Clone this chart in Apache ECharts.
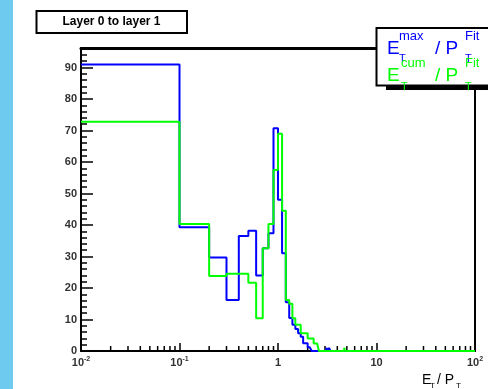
<!DOCTYPE html>
<html>
<head>
<meta charset="utf-8">
<script src="https://cdn.jsdelivr.net/npm/echarts@6/dist/echarts.min.js"></script>
<style>
html,body{margin:0;padding:0;background:#fff;}
#chart{width:488px;height:389px;}
</style>
</head>
<body>
<div id="chart"></div>
<script>
// Histogram bin edges (E_T / P_T), log x axis starts at 1e-2
const binEdges = [0.01,0.1,0.2,0.3,0.4,0.5,0.6,0.7,0.8,0.9,1.0,1.1,1.2,1.3,1.4,1.5,1.6,1.7,1.8,1.9,2.0,2.1,2.2,2.3,2.4,2.5,2.6,3.1,3.2,3.3,3.4,4.7,4.8,8.5,8.6,12.5,12.7,100];
// E_T^max / P_T^Fit (blue)
const maxCounts = [91,39.3,29.7,16.2,36.5,38.2,24,32.6,37.4,70.7,48,31,15.5,10.5,8.3,7,5.6,4.5,2.5,2.5,1.2,1.2,0,0,0,0,0,1,0,1,0,0,0,0.6,0,0.6,0];
// E_T^cum / P_T^Fit (green)
const cumCounts = [72.8,40.3,23.8,24.5,24.5,21.7,10.4,32.6,40.3,57.5,69,44.5,16.2,15,10.4,8.3,8.3,5.6,5.6,5.6,4,4,4,2.4,2.4,2.4,0,0,0,0,0,1,0,0,0,0,0];
// minor tick positions of the log x axis
const xMinorTicks = [0.02,0.03,0.04,0.05,0.06,0.07,0.08,0.09,0.2,0.3,0.4,0.5,0.6,0.7,0.8,0.9,2,3,4,5,6,7,8,9,20,30,40,50,60,70,80,90];
const yMax = 96.2;
const titleText = 'Layer 0 to layer 1';

function stepPoints(edges, vals) {
  const pts = [];
  for (let i = 0; i < vals.length; i++) {
    pts.push([edges[i], vals[i]]);
    pts.push([edges[i + 1], vals[i]]);
  }
  return pts;
}

const FONT = 'Liberation Sans';
const chart = echarts.init(document.getElementById('chart'), null, {renderer: 'canvas'});

function txt(x, y, s, size, color, weight) {
  return {type: 'text', x: x, y: y, z: 100,
    style: {text: s, font: (weight || 'normal') + ' ' + size + 'px "' + FONT + '"', fill: color, align: 'left', verticalAlign: 'middle'}};
}

const legendGroup = [
  {type: 'rect', shape: {x: 386, y: 85, width: 110, height: 5}, style: {fill: '#000'}, z: 90},
  {type: 'rect', shape: {x: 376.5, y: 28, width: 130, height: 57.5}, style: {fill: '#fff', stroke: '#000', lineWidth: 2}, z: 91},
  txt(387, 49, 'E', 19, '#0000ff'),
  txt(399, 36, 'max', 13, '#0000ff'),
  txt(399, 59, 'T', 11, '#0000ff'),
  txt(435, 49, '/ P', 19, '#0000ff'),
  txt(465, 36, 'Fit', 13, '#0000ff'),
  txt(465, 59, 'T', 11, '#0000ff'),
  txt(387, 76, 'E', 19, '#00ff00'),
  txt(401, 63, 'cum', 13, '#00ff00'),
  txt(401, 87, 'T', 11, '#00ff00'),
  txt(435, 76, '/ P', 19, '#00ff00'),
  txt(465, 63, 'Fit', 13, '#00ff00'),
  txt(465, 87, 'T', 11, '#00ff00')
];

const option = {
  animation: false,
  backgroundColor: '#fff',
  grid: {left: 81, right: 13, top: 48, bottom: 38, containLabel: false},
  xAxis: [
    {
      type: 'log', logBase: 10, min: 0.01, max: 100,
      axisLine: {show: true, onZero: false, lineStyle: {color: '#000', width: 2}},
      axisTick: {show: true, inside: true, length: 8, lineStyle: {color: '#000', width: 1.5}},
      splitLine: {show: false},
      axisLabel: {
        margin: 5,
        formatter: function (v) {
          const e = Math.round(Math.log10(v));
          if (e === 0) return '{b|1}';
          if (e === 1) return '{b|10}';
          return '{b|10}{s|' + e + '}';
        },
        rich: {
          b: {fontFamily: FONT, fontWeight: 'bold', fontSize: 11, color: '#333', lineHeight: 14},
          s: {fontFamily: FONT, fontWeight: 'bold', fontSize: 7, color: '#333', lineHeight: 14, verticalAlign: 'top'}
        }
      }
    },
    {
      type: 'value', position: 'top', min: 0, max: 1,
      axisLine: {show: true, onZero: false, lineStyle: {color: '#000', width: 3}},
      axisTick: {show: false}, axisLabel: {show: false}, splitLine: {show: false}
    }
  ],
  yAxis: [
    {
      type: 'value', min: 0, max: yMax, interval: 10,
      axisLine: {show: true, onZero: false, lineStyle: {color: '#000', width: 2}},
      axisTick: {show: true, inside: true, length: 12, lineStyle: {color: '#000', width: 1.5}},
      minorTick: {show: true, splitNumber: 5, length: 6, lineStyle: {color: '#000', width: 1.5}},
      splitLine: {show: false},
      axisLabel: {
        margin: 4, fontFamily: FONT, fontWeight: 'bold', fontSize: 11, color: '#333',
        showMaxLabel: false,
        formatter: function (v) { return (Math.abs(v % 10) < 1e-6) ? String(v) : ''; }
      }
    },
    {
      type: 'value', position: 'right', min: 0, max: 1,
      axisLine: {show: true, onZero: false, lineStyle: {color: '#000', width: 2}},
      axisTick: {show: false}, axisLabel: {show: false}, splitLine: {show: false}
    }
  ],
  series: [
    {
      type: 'custom', xAxisIndex: 0, yAxisIndex: 0, clip: false, silent: true,
      data: xMinorTicks.map(function (v) { return [v, 0]; }),
      renderItem: function (params, api) {
        const p = api.coord([api.value(0), 0]);
        return {type: 'line', shape: {x1: p[0], y1: p[1], x2: p[0], y2: p[1] - 5},
          style: {stroke: '#000', lineWidth: 1.5}};
      },
      z: 1
    },
    {
      name: 'max', type: 'line', xAxisIndex: 0, yAxisIndex: 0, showSymbol: false, clip: false,
      data: stepPoints(binEdges, maxCounts),
      lineStyle: {color: '#0000ff', width: 2}, itemStyle: {color: '#0000ff'}, z: 3
    },
    {
      name: 'cum', type: 'line', xAxisIndex: 0, yAxisIndex: 0, showSymbol: false, clip: false,
      data: stepPoints(binEdges, cumCounts),
      lineStyle: {color: '#00ff00', width: 2}, itemStyle: {color: '#00ff00'}, z: 4
    }
  ],
  graphic: [
    {type: 'rect', shape: {x: 0, y: 0, width: 13, height: 389}, style: {fill: '#6fcaef'}, z: 100},
    {type: 'rect', shape: {x: 36.5, y: 11, width: 150.5, height: 22}, style: {fill: '#fff', stroke: '#000', lineWidth: 2}, z: 100},
    {type: 'text', x: 111.5, y: 22, z: 101, style: {text: titleText, font: 'bold 12px "' + FONT + '"', fill: '#000', align: 'center', verticalAlign: 'middle'}},
    // axis title E_T / P_T
    txt(422, 380, 'E', 14, '#000'),
    txt(430, 386, 'T', 8, '#000'),
    txt(437, 380, '/ P', 14, '#000'),
    txt(456, 386, 'T', 8, '#000')
  ].concat(legendGroup)
};
chart.setOption(option);
</script>
</body>
</html>
